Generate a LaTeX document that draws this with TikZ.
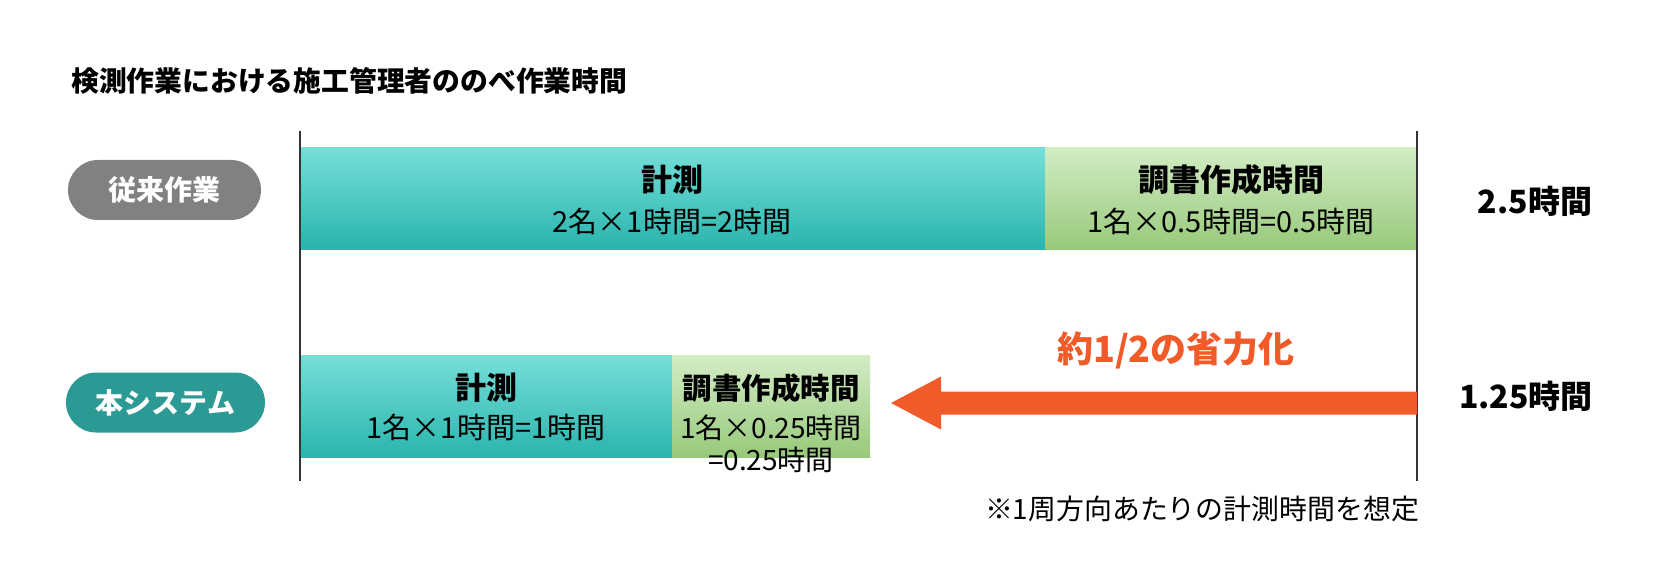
\documentclass[tikz,border=0pt]{standalone}
\usepackage{fontspec}
\setmainfont{Noto Sans CJK JP}
\usetikzlibrary{calc}
\definecolor{pillgray}{HTML}{818181}
\definecolor{pillteal}{HTML}{2B9A94}
\definecolor{tealtop}{HTML}{76DFD9}
\definecolor{tealbot}{HTML}{29B4AD}
\definecolor{greentop}{HTML}{D3ECC5}
\definecolor{greenbot}{HTML}{97C97A}
\definecolor{accent}{HTML}{F15A29}
\definecolor{axisgray}{HTML}{333333}
\begin{document}
\begin{tikzpicture}[x=1pt,y=-1pt,
  titletext/.style={anchor=west, inner sep=0, font=\fontsize{27.8}{32}\selectfont\bfseries},
  pill/.style={rounded corners=30pt, text=white, inner sep=0, minimum height=60pt,
    font=\fontsize{28}{32}\selectfont\bfseries},
  tealbar/.style={anchor=north west, inner sep=0, top color=tealtop, bottom color=tealbot, minimum height=102pt},
  greenbar/.style={anchor=north west, inner sep=0, top color=greentop, bottom color=greenbot, minimum height=102pt},
  head/.style={inner sep=0, font=\fontsize{31}{34}\selectfont\bfseries},
  headsmall/.style={inner sep=0, font=\fontsize{29.5}{32}\selectfont\bfseries},
  sub/.style={inner sep=0, font=\fontsize{29}{32}\selectfont},
  subsmall/.style={inner sep=0, font=\fontsize{28}{30}\selectfont},
  notetext/.style={inner sep=0, font=\fontsize{27.9}{30}\selectfont},
  total/.style={inner sep=0, font=\fontsize{32}{36}\selectfont\bfseries},
  axisline/.style={draw=axisgray, line width=1.8pt},
]
\useasboundingbox (0,0) rectangle (1657,572);

% title
\node[titletext] (title) at (71,81) {検測作業における施工管理者ののべ作業時間};

% row labels
\node[pill, fill=pillgray, minimum width=193pt] (row1) at (164.5,190) {従来作業};
\node[pill, fill=pillteal, minimum width=199pt] (row2) at (165.5,402.5) {本システム};

% bars row 1
\node[tealbar, minimum width=745pt] (bar1a) at (300,147) {};
\node[greenbar, minimum width=372pt] (bar1b) at (1045,147) {};
% bars row 2
\node[tealbar, minimum width=372pt] (bar2a) at (300,355.5) {};
\node[greenbar, minimum width=198pt] (bar2b) at (672,355.5) {};

% axis lines
\draw[axisline] (300,131) -- (300,481);
\draw[axisline] (1417,131) -- (1417,481);

% texts row 1
\node[head] (h1a) at (672,180) {計測};
\node[sub] (s1a) at (672,221) {2名×1時間=2時間};
\node[head] (h1b) at (1231,180) {調書作成時間};
\node[sub] (s1b) at (1231,221) {1名×0.5時間=0.5時間};
\node[total] (t1) at (1535,201) {2.5時間};

% texts row 2
\node[head] (h2a) at (486,388) {計測};
\node[sub] (s2a) at (486,427) {1名×1時間=1時間};
\node[headsmall] (h2b) at (771,388) {調書作成時間};
\node[subsmall] (s2b) at (771,428) {1名×0.25時間};
\node[subsmall] (s2c) at (771,460) {=0.25時間};
\node[total] (t2) at (1526,396) {1.25時間};

% arrow
\coordinate (arrowstart) at (1417,403);
\coordinate (arrowtip) at (891,403);
\fill[accent] ($(arrowstart)+(0,-11.5)$) -- ($(arrowtip)+(50,-11.5)$) -- ($(arrowtip)+(50,-26.5)$)
  -- (arrowtip) -- ($(arrowtip)+(50,26.5)$) -- ($(arrowtip)+(50,11.5)$) -- ($(arrowstart)+(0,11.5)$) -- cycle;
\node[inner sep=0, text=accent, font=\fontsize{36}{40}\selectfont\bfseries] (saving) at (1176,350) {約1/2の省力化};

% note
\node[notetext] (note) at (1202,509) {※1周方向あたりの計測時間を想定};
\end{tikzpicture}
\end{document}
